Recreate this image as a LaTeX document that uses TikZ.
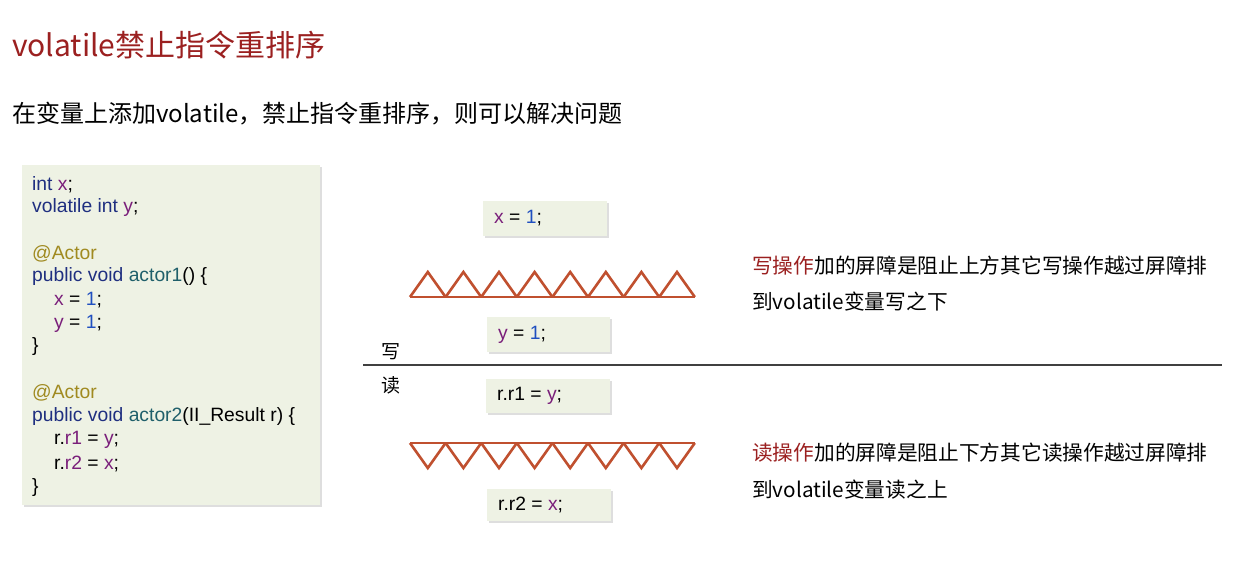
\documentclass[tikz,border=0pt]{standalone}
\usepackage{fontspec}
\setmainfont{Liberation Sans}
\newfontfamily\cjk{Noto Sans CJK SC}
\usetikzlibrary{shadows}
\definecolor{tred}{HTML}{9B2020}
\definecolor{tri}{HTML}{C0502F}
\definecolor{bx}{HTML}{EEF2E4}
\definecolor{pu}{HTML}{7A1F7A}
\definecolor{bl}{HTML}{1F4FC0}
\definecolor{nv}{HTML}{1F2F80}
\definecolor{ol}{HTML}{A08A20}
\definecolor{tl}{HTML}{1F5F6A}
\newcommand{\vx}[1]{\textcolor{pu}{#1}}
\newcommand{\nm}[1]{\textcolor{bl}{#1}}
\newcommand{\kw}[1]{\textcolor{nv}{#1}}
\begin{document}
\begin{tikzpicture}[x=1pt,y=-1pt,
  sbox/.style={fill=bx,draw=none,drop shadow={shadow xshift=2pt,shadow yshift=-2pt,fill=gray!50}},
  code/.style={anchor=west,font=\fontsize{19.3}{22}\selectfont,inner sep=0pt},
  cn/.style={anchor=west,font=\cjk\fontsize{20.7}{24}\selectfont,inner sep=0pt},
  trist/.style={draw=tri,line width=2.6pt,line join=miter}]
\useasboundingbox (0,0) rectangle (1257,579);
\fill[white] (0,0) rectangle (1257,579);
\node[anchor=west,inner sep=0pt,text=tred,font=\cjk\fontsize{30}{34}\selectfont] (title) at (12,45) {volatile禁止指令重排序};
\node[cn,font=\cjk\fontsize{24}{28}\selectfont] (sub) at (12,114) {在变量上添加volatile，禁止指令重排序，则可以解决问题};
% code box
\path[sbox] (22,165) rectangle (320,505);
\node[code] (c1) at (32,185) {\kw{int} \vx{x};};
\node[code] (c2) at (32,208) {\kw{volatile int} \vx{y};};
\node[code] (c3) at (32,254) {\textcolor{ol}{@Actor}};
\node[code] (c4) at (32,277) {\kw{public void} \textcolor{tl}{actor1}() \{};
\node[code] (c5) at (54,300) {\vx{x} = \nm{1};};
\node[code] (c6) at (54,324) {\vx{y} = \nm{1};};
\node[code] (c7) at (32,347) {\}};
\node[code] (c8) at (32,393) {\textcolor{ol}{@Actor}};
\node[code] (c9) at (32,417) {\kw{public void} \textcolor{tl}{actor2}(II\_Result r) \{};
\node[code] (c10) at (54,440) {r.\vx{r1} = \vx{y};};
\node[code] (c11) at (54,464) {r.\vx{r2} = \vx{x};};
\node[code] (c12) at (32,487) {\}};
% boxes
\path[sbox] (483,201) rectangle (607,236);
\node[code] (b1) at (494,218.5) {\vx{x} = \nm{1};};
\path[sbox] (487,317) rectangle (610,352);
\node[code] (b2) at (498,334.5) {\vx{y} = \nm{1};};
\path[sbox] (486,379) rectangle (610,413);
\node[code] (b3) at (497,396) {r.r1 = \vx{y};};
\path[sbox] (487,489) rectangle (611,521);
\node[code] (b4) at (498,505) {r.r2 = \vx{x};};
% barriers
\foreach \i in {0,...,7}{
  \draw[trist] ({410+\i*35.6},297) -- ({427.8+\i*35.6},272) -- ({445.6+\i*35.6},297);
  \draw[trist] ({410+\i*35.6},443) -- ({427.8+\i*35.6},468) -- ({445.6+\i*35.6},443);
}
\draw[trist] (410,297) -- (695,297);
\draw[trist] (410,443) -- (695,443);
% divider
\draw[line width=2pt,black!75] (363,365) -- (1222,365);
\node[cn,font=\cjk\fontsize{19}{22}\selectfont] (w) at (381,352) {写};
\node[cn,font=\cjk\fontsize{19}{22}\selectfont] (r) at (381,385) {读};
% right texts
\node[cn] (t1) at (752,266) {\textcolor{tred}{写操作}加的屏障是阻止上方其它写操作越过屏障排};
\node[cn] (t2) at (752,302) {到volatile变量写之下};
\node[cn] (t3) at (752,453) {\textcolor{tred}{读操作}加的屏障是阻止下方其它读操作越过屏障排};
\node[cn] (t4) at (752,490) {到volatile变量读之上};
\end{tikzpicture}
\end{document}
